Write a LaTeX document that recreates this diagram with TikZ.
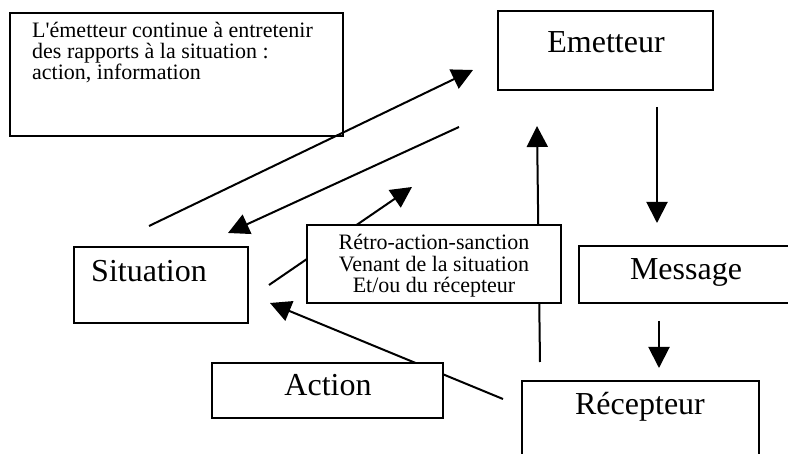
\documentclass[tikz,border=0pt]{standalone}
\usepackage{fontspec}
\setmainfont{Liberation Serif}
\usetikzlibrary{arrows.meta}
\begin{document}
\begin{tikzpicture}[x=1pt,y=-1pt,
  box/.style={draw, line width=1.4pt, fill=white, inner sep=0pt},
  arr/.style={line width=2pt, -{Triangle[length=21pt,width=21pt]}},
  lbl/.style={font=\fontsize{32}{32}\selectfont, inner sep=0pt, anchor=base},
  small/.style={font=\fontsize{22}{21.5}\selectfont, align=center, inner sep=0pt},
]
\useasboundingbox (0,0) rectangle (788,454);
\clip (0,0) rectangle (788,454);

% arrow end points
\coordinate (a1s) at (149,226);  \coordinate (a1e) at (473,70);
\coordinate (a2s) at (459,127);  \coordinate (a2e) at (228,233);
\coordinate (a3s) at (269,285);  \coordinate (a3e) at (412,187);
\coordinate (a4s) at (540,362);  \coordinate (a4e) at (537,126);
\coordinate (a5s) at (657,107);  \coordinate (a5e) at (657,223);
\coordinate (a6s) at (659,321);  \coordinate (a6e) at (659,368);
\coordinate (a7s) at (503,399);  \coordinate (a7e) at (270,303);

% arrows that pass behind boxes
\draw[arr] (a3s) -- (a3e);
\draw[arr] (a4s) -- (a4e);
\draw[arr] (a7s) -- (a7e);

% boxes
\node[box, minimum width=333pt, minimum height=123pt] (note) at (176.5,74.5) {};
\node[anchor=north west, align=left, inner sep=0pt,
      font=\fontsize{22}{21}\selectfont] (notetext) at (32,22)
  {L\textquotesingle émetteur continue à entretenir\\des rapports à la situation :\\action, information};

\node[box, minimum width=215pt, minimum height=79pt] (em) at (605.5,50.5) {};
\node[lbl] (emtext) at (606,53) {Emetteur};

\node[box, minimum width=174pt, minimum height=76pt] (sit) at (161,285) {};
\node[lbl] (sittext) at (149,282) {Situation};

\node[box, minimum width=221pt, minimum height=57pt] (msg) at (689.5,274.5) {};
\node[lbl] (msgtext) at (686,280) {Message};

\node[box, minimum width=254pt, minimum height=78pt] (retro) at (434,264) {};
\node[small] (retrotext) at (434,266)
  {Rétro-action-sanction\\Venant de la situation\\Et/ou du récepteur};

\node[box, minimum width=231pt, minimum height=55pt] (act) at (327.5,390.5) {};
\node[lbl] (acttext) at (328,396) {Action};

\node[box, minimum width=237pt, minimum height=89pt] (rec) at (640.5,425.5) {};
\node[lbl] (rectext) at (640,415) {Récepteur};

% remaining arrows
\draw[arr] (a1s) -- (a1e);
\draw[arr] (a2s) -- (a2e);
\draw[arr] (a5s) -- (a5e);
\draw[arr] (a6s) -- (a6e);
\end{tikzpicture}
\end{document}
